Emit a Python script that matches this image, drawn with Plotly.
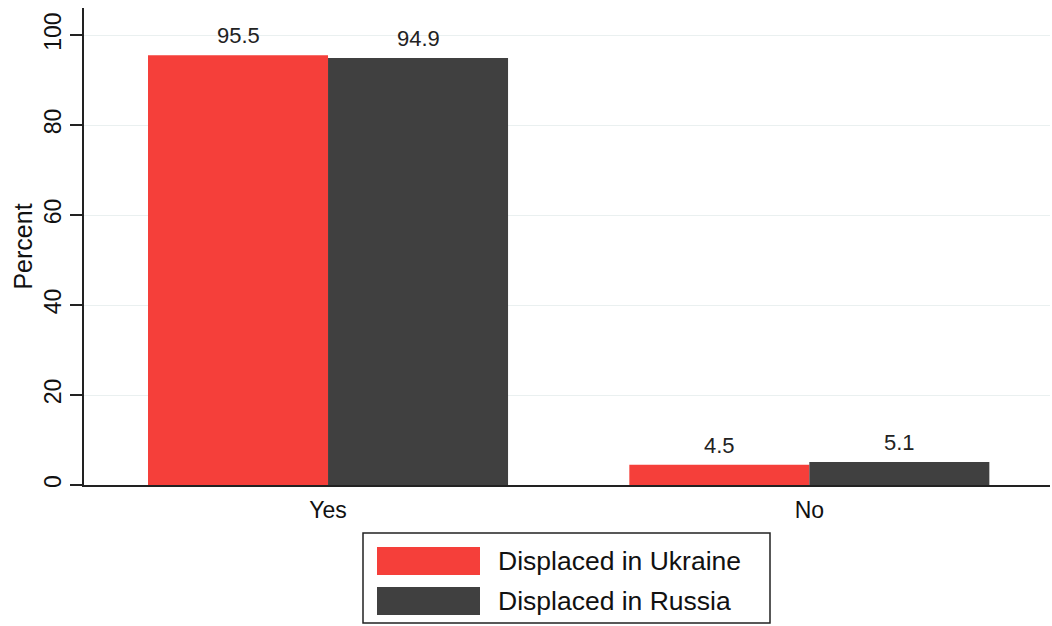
import plotly.graph_objects as go

categories = ['Yes', 'No']
ukraine = [95.5, 4.5]
russia = [94.9, 5.1]
series_names = ['Displaced in Ukraine', 'Displaced in Russia']
COLORS = ['#f53f3a', '#404040']

W, H = 1052, 626
L, R, T, B = 84, 2, 8, 141
pw, ph = W - L - R, H - T - B


def px_x(x):
    return (x - L) / pw


def px_y(y):
    return (H - B - y) / ph


fig = go.Figure()
for name, vals, col in zip(series_names, [ukraine, russia], COLORS):
    fig.add_trace(go.Bar(
        x=categories, y=vals, name=name,
        marker=dict(color=col, line=dict(width=0)),
        showlegend=False
    ))
    offset = -0.187 if col == COLORS[0] else 0.187
    for i, v in enumerate(vals):
        fig.add_annotation(
            x=i + offset, y=v, text=f'{v:.1f}', showarrow=False,
            yanchor='bottom', yshift=5, xref='x', yref='y',
            font=dict(size=22, color='#222222')
        )

# legend drawn as box in paper coordinates
fig.add_shape(type='rect', xref='paper', yref='paper',
              x0=px_x(363), x1=px_x(770), y0=px_y(533), y1=px_y(623),
              line=dict(color='#222222', width=1.5), fillcolor='white')
for k, (name, col) in enumerate(zip(series_names, COLORS)):
    yc = 561 + 40 * k
    fig.add_shape(type='rect', xref='paper', yref='paper',
                  x0=px_x(377), x1=px_x(480), y0=px_y(yc - 14), y1=px_y(yc + 14),
                  line=dict(width=0), fillcolor=col)
    fig.add_annotation(xref='paper', yref='paper', x=px_x(496), y=px_y(yc),
                       text=name, showarrow=False, xanchor='left', yanchor='middle',
                       font=dict(size=26.5, color='#111111'))

fig.update_layout(
    width=W, height=H,
    margin=dict(l=L, r=R, t=T, b=B),
    paper_bgcolor='white', plot_bgcolor='white',
    font=dict(family='Liberation Sans, Arial, sans-serif', color='#111111'),
    barmode='group', bargap=0.252, bargroupgap=0,
)
fig.update_xaxes(
    range=[-0.507, 1.5], showgrid=False, ticks='',
    showline=True, linecolor='#222222', linewidth=1.5,
    tickfont=dict(size=23), ticklabelstandoff=4
)
fig.update_yaxes(
    range=[0, 106], tickvals=[0, 20, 40, 60, 80, 100], tickangle=-90,
    ticks='outside', ticklen=12, tickcolor='#222222', tickwidth=1.5,
    showline=True, linecolor='#222222', linewidth=1.5,
    showgrid=True, gridcolor='#eaf0f0', gridwidth=1, zeroline=False,
    tickfont=dict(size=23),
    title=dict(text='Percent', font=dict(size=25), standoff=0)
)

fig.write_html('out.html', config={'displayModeBar': False},
               post_script="document.body.style.margin='0';document.body.style.overflow='hidden';")
